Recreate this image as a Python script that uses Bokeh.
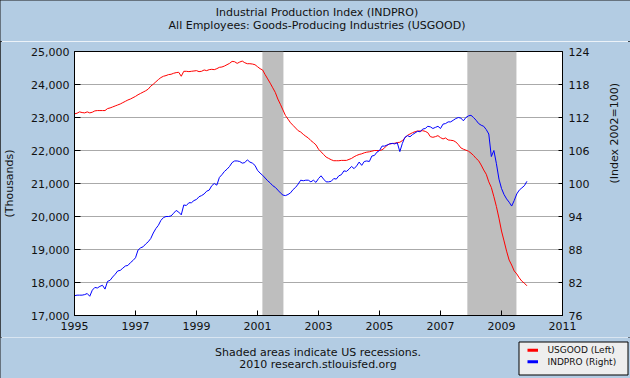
import math
from bokeh.plotting import figure
from bokeh.layouts import column
from bokeh.models import Range1d, LinearAxis, FixedTicker, NumeralTickFormatter
from bokeh.core.properties import value
from bokeh.embed import file_html
from bokeh.resources import INLINE

# ---------------- data (monthly, Jan 1995 .. Nov 2009) ----------------
start_year = 1995

usgood = [  # All Employees: Goods-Producing Industries, thousands (left axis)
    23110, 23130, 23170, 23150, 23140, 23170, 23140, 23160, 23200, 23210, 23210, 23210,
    23210, 23270, 23290, 23320, 23350, 23380, 23410, 23450, 23490, 23530, 23560, 23600,
    23640, 23690, 23730, 23770, 23810, 23860, 23950, 24010, 24080, 24150, 24210, 24250,
    24270, 24300, 24310, 24340, 24360, 24370, 24250, 24400, 24400, 24390, 24400, 24410,
    24420, 24390, 24400, 24440, 24420, 24450, 24460, 24450, 24480, 24520, 24530, 24560,
    24600, 24640, 24700, 24690, 24640, 24680, 24710, 24660, 24630, 24630, 24620, 24600,
    24540, 24480, 24440, 24300, 24170, 24040, 23900, 23760, 23560, 23400, 23230, 23060,
    22950, 22840, 22760, 22680, 22600, 22560, 22490, 22430, 22380, 22300, 22240, 22170,
    22040, 21960, 21880, 21800, 21760, 21720, 21690, 21690, 21690, 21700, 21700, 21700,
    21730, 21760, 21810, 21850, 21880, 21900, 21930, 21950, 21960, 21980, 22000, 22000,
    22000, 22020, 22080, 22160, 22200, 22210, 22220, 22240, 22250, 22300, 22380, 22460,
    22500, 22540, 22570, 22590, 22590, 22600, 22580, 22540, 22420, 22400, 22420, 22450,
    22390, 22350, 22380, 22320, 22310, 22300, 22260, 22180, 22080, 22040, 22010, 21980,
    21920, 21850, 21760, 21690, 21560, 21410, 21280, 21050, 20880, 20600, 20300, 19950,
    19560, 19260, 18950, 18680, 18530, 18350, 18260, 18140, 18040, 17980, 17900,
]

indpro = [  # Industrial Production Index, 2002=100 (right axis)
    79.6, 79.7, 79.7, 79.7, 79.8, 80.0, 79.5, 80.6, 81.1, 81.0, 81.3, 81.5,
    80.8, 82.2, 82.4, 83.0, 83.5, 84.1, 84.2, 84.6, 85.0, 85.1, 85.6, 86.0,
    86.5, 87.9, 88.3, 88.5, 89.0, 89.4, 90.0, 91.0, 91.8, 92.4, 93.3, 93.8,
    94.0, 94.0, 94.1, 94.6, 95.1, 94.8, 94.3, 96.1, 96.0, 96.5, 96.5, 96.9,
    97.1, 97.6, 97.8, 98.1, 98.6, 98.8, 99.6, 100.0, 99.7, 101.1, 101.6, 102.2,
    102.6, 103.1, 103.8, 104.1, 104.1, 104.0, 103.7, 103.8, 104.3, 103.9, 103.7, 103.3,
    102.4, 101.9, 101.5, 101.0, 100.5, 100.1, 99.6, 99.3, 98.8, 98.3, 97.9, 97.8,
    98.0, 98.3, 98.9, 99.3, 99.9, 100.6, 100.5, 100.6, 100.6, 100.3, 100.6, 100.2,
    100.9, 101.4, 100.8, 100.3, 100.3, 100.4, 100.9, 100.8, 101.4, 101.6, 102.3, 102.2,
    102.6, 103.1, 102.7, 103.2, 103.9, 103.3, 104.0, 104.1, 104.0, 105.0, 105.1, 105.7,
    106.0, 106.8, 106.8, 107.0, 107.2, 107.3, 107.2, 107.4, 105.8, 107.3, 108.4, 108.7,
    108.5, 108.9, 109.2, 109.5, 109.4, 109.9, 110.0, 110.4, 110.3, 110.0, 110.2, 110.4,
    110.0, 110.8, 110.9, 111.2, 111.2, 111.5, 111.8, 112.0, 111.9, 111.4, 112.0, 112.3,
    112.4, 112.0, 111.5, 110.9, 110.6, 110.4, 109.8, 109.0, 104.9, 106.0, 103.6, 100.8,
    99.1, 98.0, 97.2, 96.6, 95.9, 96.9, 98.1, 98.8, 99.2, 99.6, 100.4,
]

recession_starts = [2001.16, 2007.88]
recession_ends = [2001.85, 2009.49]

x_ticks = [1995, 1997, 1999, 2001, 2003, 2005, 2007, 2009, 2011]
left_ticks = [17000, 18000, 19000, 20000, 21000, 22000, 23000, 24000, 25000]
right_ticks = [76, 82, 88, 94, 100, 106, 112, 118, 124]

title_lines = ["Industrial Production Index (INDPRO)",
               "All Employees: Goods-Producing Industries (USGOOD)"]
footer_lines = ["Shaded areas indicate US recessions.",
                "2010 research.stlouisfed.org"]
left_label = "(Thousands)"
right_label = "(Index 2002=100)"
legend_labels = ["USGOOD (Left)", "INDPRO (Right)"]
legend_colors = ["#FF0000", "#0000FF"]

# ---------------- styling ----------------
BG = "#B3CCE3"
TXT = "#111111"
FONT = "DejaVu Sans"
GRID = "#AAAAAA"
SHADE = "#BEBEBE"
W = 630
TOP_H, MAIN_H, BOT_H = 41, 296, 41

months_x = [start_year + i / 12 for i in range(len(usgood))]
months_x2 = [start_year + i / 12 for i in range(len(indpro))]


def no_align(f):
    try:
        f.frame_align = False
    except Exception:
        pass


def text_strip(height):
    # a strip whose frame is the whole canvas; its ranges equal its pixel size
    f = figure(width=W, height=height, output_backend="svg", toolbar_location=None,
               x_range=Range1d(0, W), y_range=Range1d(0, height),
               x_axis_type=None, y_axis_type=None,
               min_border=0, min_border_left=0, min_border_right=0,
               min_border_top=0, min_border_bottom=0,
               background_fill_color=BG, border_fill_color=BG)
    f.outline_line_color = None
    f.xgrid.visible = False
    f.ygrid.visible = False
    no_align(f)
    return f


def add_text(f, x, y, text, size="11px", align="center"):
    f.text(x=[x], y=[y], text=[text], text_align=align, text_baseline="middle",
           text_font=value(FONT), text_font_size=value(size), text_color=TXT)


# ---------- top strip: titles ----------
top = text_strip(TOP_H)
add_text(top, 316.5, TOP_H - 11.5, title_lines[0])
add_text(top, 316.5, TOP_H - 25, title_lines[1])

# ---------- main chart ----------
p = figure(width=W, height=MAIN_H, output_backend="svg", toolbar_location=None,
           x_range=Range1d(x_ticks[0], x_ticks[-1]),
           y_range=Range1d(left_ticks[0], left_ticks[-1]),
           min_border_left=73, min_border_right=66, min_border_top=10,
           min_border_bottom=22,
           background_fill_color="white", border_fill_color=BG)
no_align(p)
p.extra_y_ranges = {"right": Range1d(right_ticks[0], right_ticks[-1])}
p.outline_line_color = "black"
p.outline_line_alpha = 1.0
p.outline_line_width = 1

p.quad(left=recession_starts, right=recession_ends,
       bottom=[left_ticks[0]] * len(recession_starts),
       top=[left_ticks[-1]] * len(recession_starts),
       fill_color=SHADE, line_color=None)

p.line(months_x, usgood, line_color=legend_colors[0], line_width=1)
p.line(months_x2, indpro, line_color=legend_colors[1], line_width=1,
       y_range_name="right")

p.xgrid.visible = False
p.ygrid.ticker = FixedTicker(ticks=left_ticks)
p.ygrid.grid_line_color = GRID
p.ygrid.grid_line_width = 1


def style_axis(ax, tick_in):
    ax.axis_line_color = "black"
    ax.major_tick_line_color = "black"
    ax.major_tick_in = tick_in
    ax.major_tick_out = 0
    ax.minor_tick_line_color = None
    ax.major_label_text_font = FONT
    ax.major_label_text_font_size = "11px"
    ax.major_label_text_color = TXT
    ax.axis_label_text_font = FONT
    ax.axis_label_text_font_size = "11px"
    ax.axis_label_text_font_style = "normal"
    ax.axis_label_text_color = TXT


xa = p.xaxis[0]
xa.ticker = FixedTicker(ticks=x_ticks)
style_axis(xa, 5)
xa.major_label_standoff = 6

ya = p.yaxis[0]
ya.ticker = FixedTicker(ticks=left_ticks)
ya.formatter = NumeralTickFormatter(format="0,0")
style_axis(ya, 6)
ya.major_label_standoff = 5
ya.axis_label = left_label
ya.axis_label_standoff = 12

ra = LinearAxis(y_range_name="right", ticker=FixedTicker(ticks=right_ticks))
style_axis(ra, 4)
ra.major_label_standoff = 6
ra.axis_label = right_label
ra.axis_label_standoff = 22
try:
    ra.axis_label_orientation = math.pi / 2
except Exception:
    pass
p.add_layout(ra, "right")

# ---------- bottom strip: footer + legend box ----------
bot = text_strip(BOT_H)
add_text(bot, 317.5, BOT_H - 14.7, footer_lines[0])
add_text(bot, 317.5, BOT_H - 27.3, footer_lines[1])

LG_L, LG_R, LG_B, LG_T = 518.5, 627.5, 3.5, 36.5
bot.quad(left=[LG_L], right=[LG_R], bottom=[LG_B], top=[LG_T],
         fill_color="#EEEEEE", line_color="black", line_width=1)
row_y = [LG_T - 8.2, LG_T - 19.8]
bot.segment(x0=[LG_L + 8.5] * 2, x1=[LG_L + 19] * 2, y0=row_y, y1=row_y,
            line_color=legend_colors, line_width=3)
bot.text(x=[LG_L + 28.5] * 2, y=row_y, text=legend_labels, text_align="left",
         text_baseline="middle", text_font=value(FONT),
         text_font_size=value("9px"), text_color=TXT)

layout = column(top, p, bot, spacing=0,
                styles={"outline": "2px solid #1a1a1a", "outline-offset": "-2px"})
open("out.html", "w").write(file_html(layout, INLINE))
